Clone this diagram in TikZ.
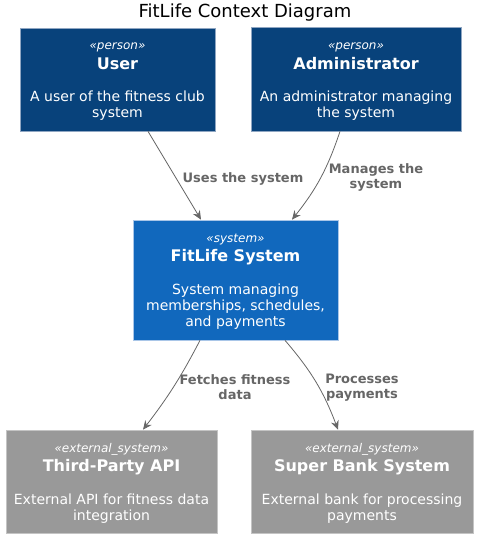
\documentclass[tikz,border=0pt]{standalone}
\usepackage{fontspec}
\setmainfont{DejaVu Sans}
\usepackage{xcolor}
\usepackage{tikz}
\usetikzlibrary{arrows.meta}

\definecolor{personblue}{HTML}{08427B}
\definecolor{personline}{HTML}{8FA6C2}
\definecolor{systemblue}{HTML}{1168BD}
\definecolor{systemline}{HTML}{A9C6E8}
\definecolor{extgray}{HTML}{999999}
\definecolor{extline}{HTML}{C4C4C4}
\definecolor{relgray}{HTML}{666666}

\begin{document}
\begin{tikzpicture}[
    x=1pt,y=-1pt,
    box/.style={rectangle,draw,line width=0.7pt,inner sep=0pt},
    person/.style={box,fill=personblue,draw=personline},
    system/.style={box,fill=systemblue,draw=systemline},
    external/.style={box,fill=extgray,draw=extline},
    stereo/.style={inner sep=0pt,yshift=-1.5pt,text=white,font=\fontsize{12}{14}\selectfont\itshape},
    title/.style={inner sep=0pt,yshift=-1.5pt,text=white,font=\fontsize{16}{19}\selectfont\bfseries},
    desc/.style={inner sep=0pt,yshift=-1.5pt,text=white,align=center,font=\fontsize{14}{16}\selectfont},
    rel/.style={-{Stealth[length=9pt,width=8pt,inset=3pt]},draw=relgray,line width=0.8pt},
    rellabel/.style={inner sep=0pt,yshift=-1.5pt,text=relgray,align=center,font=\fontsize{13}{15}\selectfont\bfseries}
]
\useasboundingbox (0,0) rectangle (481,543);

%%% Heading
\node[inner sep=0pt,font=\fontsize{18}{21}\selectfont] (heading) at (245,13) {FitLife Context Diagram};

%%% Top row: people
\node[person,minimum width=195pt,minimum height=103pt] (user) at (117.5,79.5) {};
\node[stereo] (userst) at (117.5,46) {«person»};
\node[title]  (usernm) at (117.5,62) {User};
\node[desc]   (userds) at (117.5,104) {A user of the fitness club\\system};

\node[person,minimum width=210pt,minimum height=104pt] (admin) at (356,79) {};
\node[stereo] (adminst) at (356,46) {«person»};
\node[title]  (adminnm) at (356,62) {Administrator};
\node[desc]   (adminds) at (356,104) {An administrator managing\\the system};

%%% Middle: the system itself
\node[system,minimum width=205pt,minimum height=120pt] (fit) at (235.5,280) {};
\node[stereo] (fitst) at (235.5,238) {«system»};
\node[title]  (fitnm) at (235.5,256) {FitLife System};
\node[desc]   (fitds) at (235.5,305) {System managing\\memberships, schedules,\\and payments};

%%% Bottom row: external systems
\node[external,minimum width=211pt,minimum height=103pt] (api) at (111.5,481.5) {};
\node[stereo] (apist) at (111.5,448) {«external\_system»};
\node[title]  (apinm) at (111.5,466) {Third-Party API};
\node[desc]   (apids) at (111.5,507) {External API for fitness data\\integration};

\node[external,minimum width=222pt,minimum height=103pt] (bank) at (362,481.5) {};
\node[stereo] (bankst) at (362,448) {«external\_system»};
\node[title]  (banknm) at (362,466) {Super Bank System};
\node[desc]   (bankds) at (362,507) {External bank for processing\\payments};

% relations
\draw[rel] ([xshift=30.5pt]user.south) -- ([xshift=-34.5pt]fit.north);
\draw[rel] ([xshift=-16pt]admin.south) to[bend left=10] ([xshift=56.5pt]fit.north);
\draw[rel] ([xshift=-35.5pt]fit.south) to[bend left=5] ([xshift=31.5pt]api.north);
\draw[rel] ([xshift=49.5pt]fit.south) to[bend left=10] ([xshift=-24pt]bank.north);

% relation labels
\node[rellabel] (uses)    at (243,177) {Uses the system};
\node[rellabel] (manages) at (376,176) {Manages the\\system};
\node[rellabel] (fetches) at (235,386) {Fetches fitness\\data};
\node[rellabel] (pays)    at (362,386) {Processes\\payments};
\end{tikzpicture}
\end{document}
